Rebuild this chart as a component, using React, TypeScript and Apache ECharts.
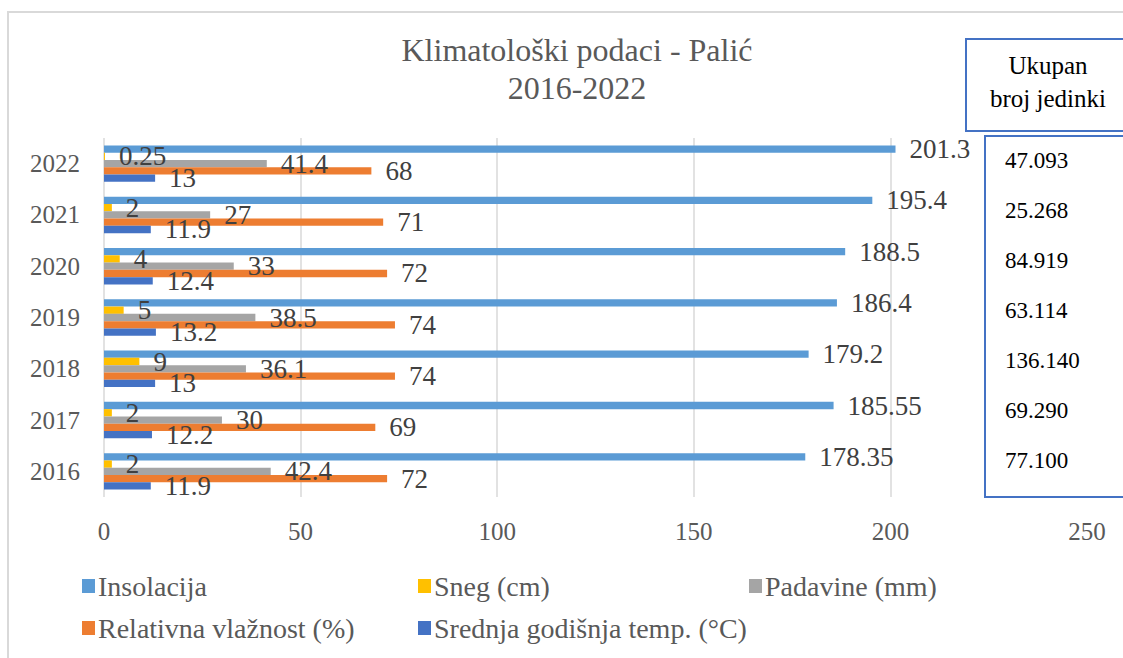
import React, { useEffect, useRef } from "react";
import * as echarts from "echarts";

const years = ["2016", "2017", "2018", "2019", "2020", "2021", "2022"];
const insolacija = [178.35, 185.55, 179.2, 186.4, 188.5, 195.4, 201.3];
const sneg = [2, 2, 9, 5, 4, 2, 0.25];
const padavine = [42.4, 30, 36.1, 38.5, 33, 27, 41.4];
const vlaznost = [72, 69, 74, 74, 72, 71, 68];
const temp = [11.9, 12.2, 13, 13.2, 12.4, 11.9, 13];
const xTicks = [0, 50, 100, 150, 200, 250];
// table "Ukupan broj jedinki", listed top (2022) to bottom (2016)
const tableYears = ["2022", "2021", "2020", "2019", "2018", "2017", "2016"];
const tableValues = ["47.093", "25.268", "84.919", "63.114", "136.140", "69.290", "77.100"];

const seriesNames = [
  "Insolacija",
  "Sneg (cm)",
  "Padavine (mm)",
  "Relativna vlažnost (%)",
  "Srednja godišnja temp. (°C)",
];
const seriesData = [insolacija, sneg, padavine, vlaznost, temp];
const colors = ["#5B9BD5", "#FFC000", "#A5A5A5", "#ED7D31", "#4472C4"];

const FONT = "Liberation Serif, serif";

export default function App() {
  const ref = useRef<HTMLDivElement>(null);
  useEffect(() => {
    document.body.style.margin = "0";
    const chart = echarts.init(ref.current!, null, { renderer: "svg" });
    const legendPos = [
      { left: 82, top: 572 },
      { left: 418, top: 572 },
      { left: 749, top: 572 },
      { left: 82, top: 614 },
      { left: 418, top: 614 },
    ];
    const legends = seriesNames.map((n, i) => ({
      data: [n],
      left: legendPos[i].left,
      top: legendPos[i].top,
      padding: 0,
      icon: "rect",
      itemWidth: 13,
      itemHeight: 14,
      selectedMode: false,
      textStyle: { fontFamily: FONT, fontSize: 28, color: "#595959", padding: [0, 0, 0, -2] },
    }));
    const tableTexts = tableValues.map((v, i) => ({
      type: "text",
      z: 101,
      x: 1005,
      y: 160 + i * 50,
      style: {
        text: v,
        fontFamily: FONT,
        fontSize: 23,
        fill: "#000",
        textVerticalAlign: "middle",
        textAlign: "left",
      },
      name: tableYears[i],
    }));
    chart.setOption({
      animation: false,
      color: colors,
      legend: legends,
      grid: { left: 104, right: 36, top: 138, bottom: 161, containLabel: false },
      xAxis: {
        type: "value",
        min: xTicks[0],
        max: xTicks[xTicks.length - 1],
        interval: 50,
        axisLine: { show: false },
        axisTick: { show: false },
        splitLine: { lineStyle: { color: "#D9D9D9", width: 1.5 } },
        axisLabel: { fontFamily: FONT, fontSize: 25, color: "#595959", margin: 22 },
      },
      yAxis: {
        type: "category",
        data: years,
        axisLine: { show: false },
        axisTick: { show: false },
        axisLabel: { fontFamily: FONT, fontSize: 25, color: "#595959", margin: 24 },
      },
      series: seriesNames.map((n, i) => ({
        name: n,
        type: "bar",
        data: seriesData[i],
        barGap: "0%",
        barCategoryGap: "29%",
        itemStyle: { color: colors[i] },
        label: {
          show: true,
          position: "right",
          distance: 14,
          fontFamily: FONT,
          fontSize: 27,
          color: "#404040",
        },
      })),
      graphic: [
        {
          type: "rect",
          z: -10,
          shape: { x: 8, y: 12, width: 1300, height: 800 },
          style: { fill: "none", stroke: "#D9D9D9", lineWidth: 2 },
          silent: true,
        },
        {
          type: "text",
          z: 100,
          x: 577,
          y: 69,
          style: {
            text: "Klimatološki podaci - Palić\n2016-2022",
            fontFamily: FONT,
            fontSize: 32,
            fill: "#595959",
            textAlign: "center",
            textVerticalAlign: "middle",
            lineHeight: 38,
          },
        },
        {
          type: "rect",
          z: 100,
          shape: { x: 966, y: 39, width: 200, height: 92 },
          style: { fill: "#fff", stroke: "#4472C4", lineWidth: 2 },
        },
        {
          type: "text",
          z: 101,
          x: 1048,
          y: 82,
          style: {
            text: "Ukupan\nbroj jedinki",
            fontFamily: FONT,
            fontSize: 25,
            fill: "#000",
            textAlign: "center",
            textVerticalAlign: "middle",
            lineHeight: 33,
          },
        },
        {
          type: "rect",
          z: 100,
          shape: { x: 985, y: 136, width: 200, height: 361 },
          style: { fill: "#fff", stroke: "#4472C4", lineWidth: 2 },
        },
        ...tableTexts,
      ],
    });
    return () => chart.dispose();
  }, []);
  return <div ref={ref} style={{ width: 1123, height: 658, position: "absolute", left: 0, top: 0 }} />;
}
